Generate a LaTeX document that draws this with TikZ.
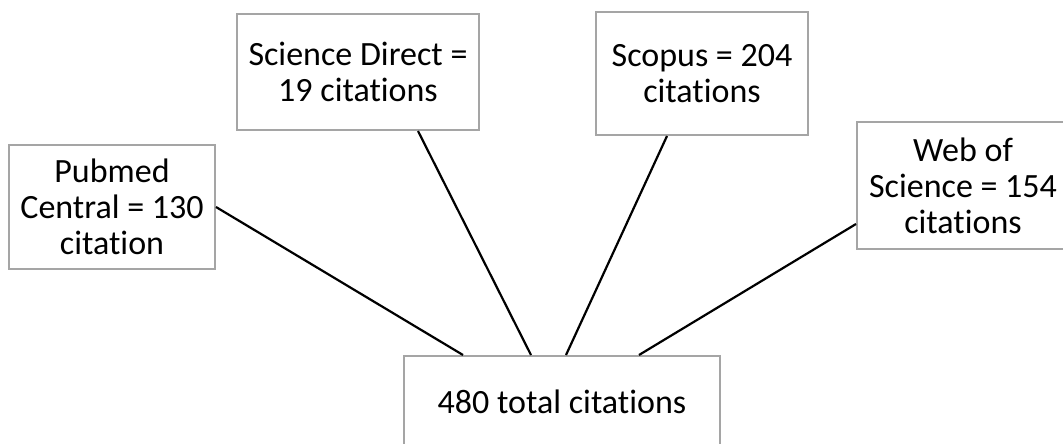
\documentclass[tikz,border=0pt]{standalone}
\usepackage{fontspec}
\setmainfont{Carlito}[Ligatures=NoCommon]
\definecolor{boxgray}{RGB}{165,165,165}
\begin{document}
\begin{tikzpicture}[
    x=1pt, y=-1pt,
    box/.style={rectangle, draw=boxgray, line width=2pt, fill=white, align=center, inner sep=0pt, font=\fontsize{34}{36}\selectfont},
    link/.style={line width=2.2pt, black}
]
\useasboundingbox (0,0) rectangle (1063,444);

% Sources
\node[box, minimum width=206pt, minimum height=124pt] (pm) at (112,207) {Pubmed\\Central = 130\\citation};
\node[box, minimum width=242pt, minimum height=116pt] (sd) at (358,72) {Science Direct =\\19 citations};
\node[box, minimum width=212pt, minimum height=123pt] (sc) at (702,73.5) {Scopus = 204\\citations};
\node[box, minimum width=212pt, minimum height=127pt] (ws) at (963,185.5) {Web of\\Science = 154\\citations};

% Total
\node[box, minimum width=316pt, minimum height=92pt] (tot) at (562,402) {480 total citations};

% Links
\draw[link] (pm.east) -- ([xshift=-99pt]tot.north);
\draw[link] ([xshift=60pt]sd.south) -- ([xshift=-31pt]tot.north);
\draw[link] ([xshift=-35pt]sc.south) -- ([xshift=4pt]tot.north);
\draw[link] ([yshift=-38.5pt]ws.west) -- ([xshift=77pt]tot.north);
\end{tikzpicture}
\end{document}
